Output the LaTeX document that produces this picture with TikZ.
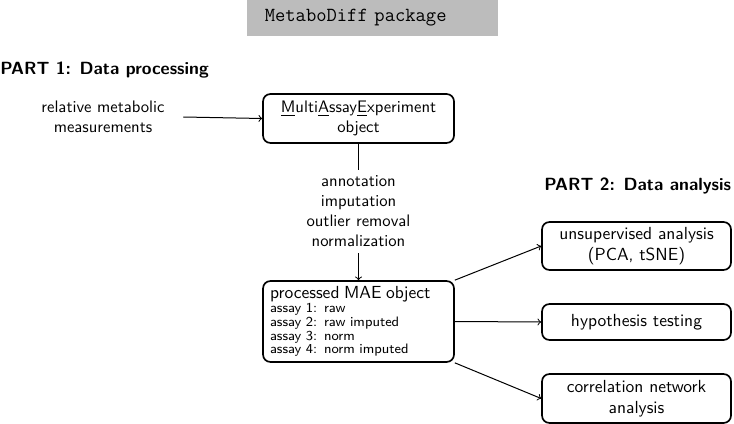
\documentclass[tikz,border=0pt]{standalone}
\usepackage{fontspec}
\usepackage{tikz}
\usetikzlibrary{arrows}
\definecolor{title-gray}{RGB}{188,188,188}
\renewcommand{\familydefault}{\sfdefault}
\newcommand{\boxfont}{\fontsize{10.5}{12.5}\selectfont}
\newcommand{\assayfont}{\fontsize{8.2}{8.3}\selectfont}
\tikzstyle{pixel}=[x=0.6pt, y=-0.6pt]
\tikzstyle{roundbox}=[draw, line width=1pt, rounded corners=4.5pt, align=center, inner sep=2pt, font=\boxfont]
\tikzstyle{flow}=[semithick, ->]
\tikzstyle{parthead}=[font=\fontsize{10.6}{12.5}\selectfont\bfseries, inner sep=0pt, anchor=base west]
\begin{document}
\begin{tikzpicture}[pixel]
	\useasboundingbox (0,0) rectangle (734,424);
	\node[fill=title-gray, anchor=west, minimum height=21.6pt, inner xsep=0pt, text width=150.6pt, align=left, font=\large\ttfamily] (title) at (247,18) {\hspace*{10.5pt}MetaboDiff package};
	\node[parthead] (part1) at (0,75) {PART 1: Data processing};
	\node[parthead] (part2) at (544,191) {PART 2: Data analysis};
	\node[align=center, inner xsep=11pt] (meas) at (103,117) {relative metabolic\\measurements};
	\node[roundbox, minimum width=114.6pt, minimum height=29.4pt, font=\normalsize] (mae) at (358.5,118.5) {\underline{M}ulti\underline{A}ssay\underline{E}xperiment\\object};
	\node[align=center, inner sep=3.5pt] (steps) at (358.5,211.5) {annotation\\imputation\\outlier removal\\normalization};
	\node[roundbox, align=left, minimum width=114.6pt, minimum height=48.6pt, inner xsep=4.2pt, text width=106.2pt, font=\assayfont] (proc) at (358.5,321.5) {{\boxfont processed MAE object}\\assay 1: raw\\assay 2: raw imputed\\assay 3: norm\\assay 4: norm imputed};
	\node[roundbox, minimum width=113.4pt, minimum height=28.8pt] (unsup) at (636.5,246) {unsupervised analysis\\(PCA, tSNE)};
	\node[roundbox, minimum width=113.4pt, minimum height=21.6pt] (hyp) at (636.5,322) {hypothesis testing};
	\node[roundbox, minimum width=113.4pt, minimum height=29.4pt] (corr) at (636.5,398.5) {correlation network\\analysis};
	\draw[flow] (meas.east) -- (mae.west);
	\draw[semithick] (mae.south) -- (steps.north);
	\draw[flow] (steps.south) -- (proc.north);
	\draw[flow] (proc.north east) -- (unsup.west);
	\draw[flow] (proc.east) -- (hyp.west);
	\draw[flow] (proc.south east) -- (corr.west);
\end{tikzpicture}
\end{document}
